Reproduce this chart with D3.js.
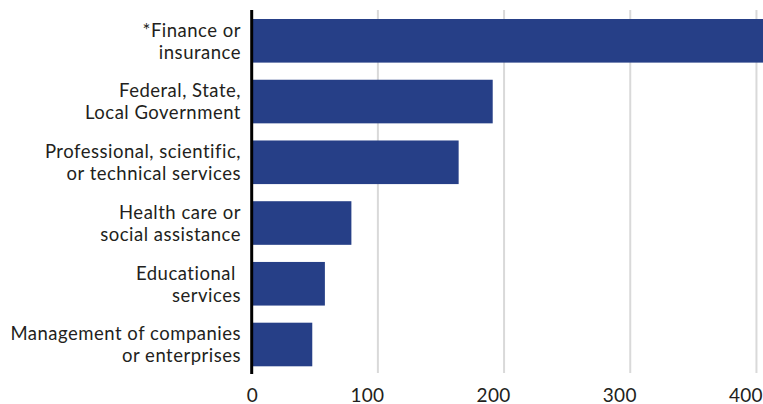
<!DOCTYPE html>
<html>
<head>
<meta charset="utf-8">
<script src="https://cdn.jsdelivr.net/npm/d3@7"></script>
<style>
  html, body { margin: 0; padding: 0; background: #fff; }
  svg { display: block; }
  text { font-family: Lato, "Open Sans", sans-serif; fill: #231f20; }
</style>
</head>
<body>
<svg id="chart" width="763" height="404"></svg>
<script>
// Industry categories (each label split into its display lines)
const categories = [
  ["*Finance or", "insurance"],
  ["Federal, State,", "Local Government"],
  ["Professional, scientific,", "or technical services"],
  ["Health care or", "social assistance"],
  ["Educational ", "services"],
  ["Management of companies", "or enterprises"]
];
const values = [410, 191, 164, 79, 58, 48];
const tickValues = [0, 100, 200, 300, 400];

const svg = d3.select("#chart");
const W = 763;

const x = d3.scaleLinear().domain([0, 405.2]).range([251.7, W]);
const y = d3.scaleBand()
  .domain(d3.range(categories.length))
  .range([19, 366.3])
  .paddingInner(0.282)
  .paddingOuter(0);

// vertical gridlines
svg.append("g")
  .selectAll("line")
  .data(tickValues.filter(d => d > 0))
  .join("line")
  .attr("x1", d => x(d)).attr("x2", d => x(d))
  .attr("y1", 10).attr("y2", 373)
  .attr("stroke", "#d9d9d9")
  .attr("stroke-width", 2);

// bars (clipped at the plot's right edge)
svg.append("clipPath").attr("id", "plot")
  .append("rect").attr("x", 0).attr("y", 0).attr("width", W).attr("height", 404);

svg.append("g")
  .attr("clip-path", "url(#plot)")
  .selectAll("rect")
  .data(values)
  .join("rect")
  .attr("x", x(0))
  .attr("y", (d, i) => y(i))
  .attr("width", d => x(d) - x(0))
  .attr("height", y.bandwidth())
  .attr("fill", "#263f87");

// baseline axis
svg.append("line")
  .attr("x1", x(0)).attr("x2", x(0))
  .attr("y1", 10).attr("y2", 374)
  .attr("stroke", "#000")
  .attr("stroke-width", 3);

// x tick labels, set flush-right just past each gridline
const xAxis = d3.axisBottom(x).tickValues(tickValues).tickSize(0).tickPadding(0);
const gx = svg.append("g").attr("transform", "translate(0,385)").call(xAxis);
gx.select(".domain").remove();
gx.selectAll("text")
  .attr("text-anchor", "end")
  .attr("x", 6)
  .attr("y", 16.5)
  .attr("dy", null)
  .style("font-size", "19px")
  .style("letter-spacing", "0.3px")
  .style("font-family", "Lato, 'Open Sans', sans-serif")
  .attr("fill", "#231f20");

// category labels
const labels = svg.append("g")
  .selectAll("text")
  .data(categories)
  .join("text")
  .attr("text-anchor", "end")
  .style("font-size", "18.5px")
  .style("letter-spacing", "0.5px")
  .attr("y", (d, i) => y(i) + y.bandwidth() / 2);

labels.selectAll("tspan")
  .data(d => d)
  .join("tspan")
  .attr("x", 241)
  .attr("dy", (d, j) => j === 0 ? "-0.22em" : "1.18em")
  .text(d => d);
</script>
</body>
</html>
